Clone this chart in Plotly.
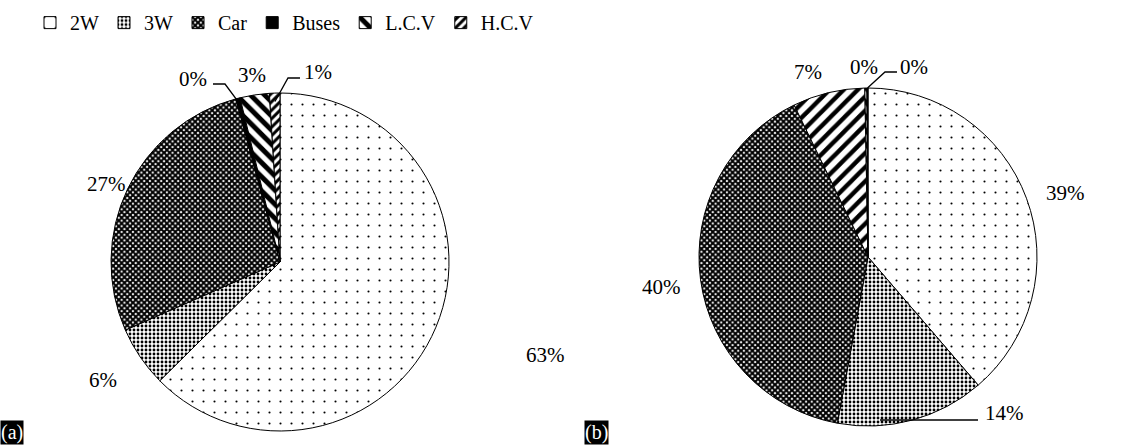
import math
import plotly.graph_objects as go

W, H = 1136, 445
FONT = "Liberation Serif"

# ---------------- data ----------------
categories = ["2W", "3W", "Car", "Buses", "L.C.V", "H.C.V"]
values_a = [62.6, 5.8, 27.4, 0.4, 2.8, 1.0]
values_b = [38.7, 14.2, 39.9, 6.9, 0.2, 0.1]
text_a = ["63%", "6%", "27%", "0%", "3%", "1%"]
text_b = ["39%", "14%", "40%", "7%", "0%", "0%"]

# ---------------- geometry (px) ----------------
CA = (280, 262)
CB = (868, 257)
R = 169


def domain(c):
    return dict(x=[(c[0] - R) / W, (c[0] + R) / W],
                y=[1 - (c[1] + R) / H, 1 - (c[1] - R) / H])


def px2paper(p):
    return p[0] / W, 1 - p[1] / H


def slice_point(center, values, idx, frac):
    tot = sum(values)
    start = sum(values[:idx]) / tot
    mid = start + values[idx] / tot / 2
    ang = 2 * math.pi * mid  # clockwise from 12 o'clock
    return (center[0] + frac * R * math.sin(ang),
            center[1] - frac * R * math.cos(ang))


pat_a = dict(
    shape=[".", ".", "x", "", "\\", "/"],
    fgcolor=["black"] * 6,
    bgcolor=["white", "white", "white", "black", "white", "white"],
    size=[11, 4, 4, 8, 10, 6],
    solidity=[0.03, 0.4, 0.75, 0.5, 0.5, 0.5],
)
colors_a = ["white", "white", "white", "black", "white", "white"]

pat_b = dict(
    shape=[".", ".", "x", "/", "\\", ""],
    fgcolor=["black"] * 6,
    bgcolor=["white", "white", "white", "white", "white", "black"],
    size=[11, 4, 4, 10, 10, 8],
    solidity=[0.03, 0.4, 0.75, 0.45, 0.5, 0.5],
)
colors_b = ["white", "white", "white", "white", "white", "black"]

fig = go.Figure()
fig.add_trace(go.Pie(
    labels=categories, values=values_a, sort=False, direction="clockwise",
    rotation=0, domain=domain(CA), textinfo="none", legend="legend",
    marker=dict(colors=colors_a, pattern=pat_a, line=dict(color="black", width=1)),
))
fig.add_trace(go.Pie(
    labels=categories, values=values_b, sort=False, direction="clockwise",
    rotation=0, domain=domain(CB), textinfo="none", legend="legend2",
    marker=dict(colors=colors_b, pattern=pat_b, line=dict(color="black", width=1)),
))

# ---------------- labels (layout, px) ----------------
label_pos_a = [(545, 355), (103, 380), (106, 184), (193, 79), (252, 75), (318, 72)]
label_pos_b = [(1065, 193), (1004, 413), (662, 287), (808, 72), (864, 67), (914, 67)]

annotations = []
for txt, pos in list(zip(text_a, label_pos_a)) + list(zip(text_b, label_pos_b)):
    x, y = px2paper(pos)
    annotations.append(dict(x=x, y=y, xref="paper", yref="paper", text=txt,
                            showarrow=False, xanchor="center", yanchor="middle",
                            font=dict(family=FONT, size=21, color="black")))

for txt, xpx in [("(a)", 0), ("(b)", 584)]:
    annotations.append(dict(x=xpx / W, y=0, xref="paper", yref="paper", text=txt,
                            showarrow=False, xanchor="left", yanchor="bottom",
                            bgcolor="black", borderpad=0,
                            font=dict(family=FONT, size=20, color="white")))

# leader lines: (label side points..., slice anchor computed from data)
leaders = [
    ([(213, 84), (225, 84)], slice_point(CA, values_a, 3, 0.97)),
    ([(300, 78), (288, 78)], slice_point(CA, values_a, 5, 0.95)),
    ([(897, 72), (885, 72)], slice_point(CB, values_b, 5, 1.0)),
    ([(978, 420)], (880, 420)),
]
shapes = []
for pts, end in leaders:
    allp = [px2paper(p) for p in pts + [end]]
    path = "M " + " L ".join(f"{x:.5f},{y:.5f}" for x, y in allp)
    shapes.append(dict(type="path", path=path, xref="paper", yref="paper",
                       line=dict(color="black", width=1.3)))

legend_common = dict(orientation="h", yanchor="top", y=0.993, xanchor="left",
                     bgcolor="rgba(0,0,0,0)",
                     font=dict(family=FONT, size=20, color="black"))

fig.update_layout(
    width=W, height=H,
    margin=dict(l=0, r=0, t=0, b=0),
    paper_bgcolor="white",
    plot_bgcolor="white",
    font=dict(family=FONT, size=20, color="black"),
    legend=dict(x=30 / W, **legend_common),
    legend2=dict(x=608 / W, **legend_common),
    annotations=annotations,
    shapes=shapes,
)

fig.write_html("out.html", config={"displayModeBar": False},
               post_script="document.body.style.margin='0px';")
